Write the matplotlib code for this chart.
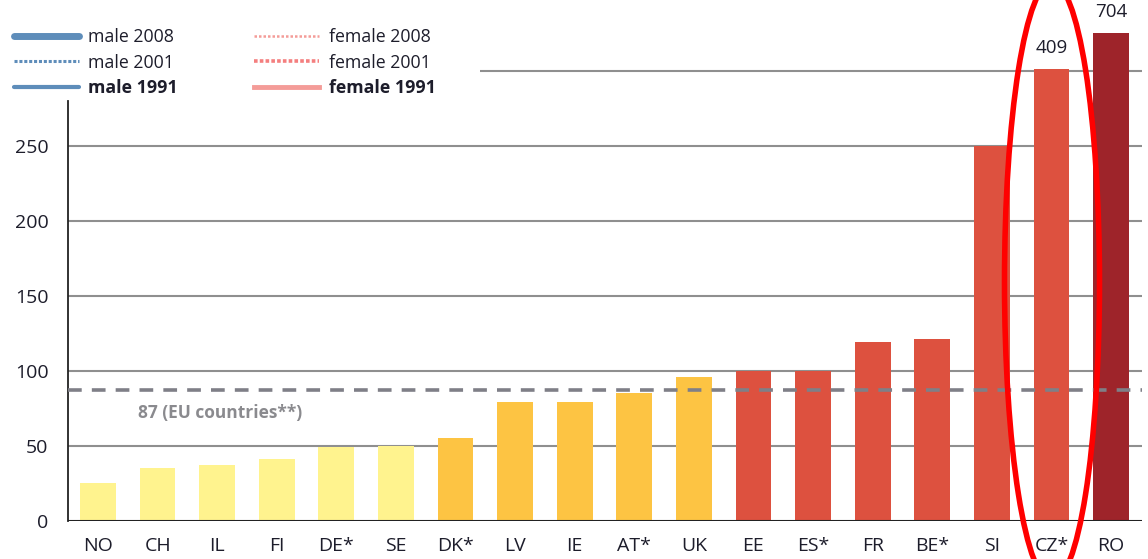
import matplotlib
matplotlib.use("Agg")
import matplotlib.pyplot as plt
from matplotlib.lines import Line2D
from matplotlib.patches import Ellipse
import numpy as np

plt.rcParams['font.family'] = ['Open Sans', 'DejaVu Sans']

countries = ["NO", "CH", "IL", "FI", "DE*", "SE", "DK*", "LV", "IE", "AT*", "UK",
             "EE", "ES*", "FR", "BE*", "SI", "CZ*", "RO"]
values = [25, 35, 37, 41, 49, 50, 55, 79, 79, 85, 96,
          100, 100, 119, 121, 250, 409, 704]
# broken-axis display heights for the two off-scale bars
shown = [25, 35, 37, 41, 49, 50, 55, 79, 79, 85, 96,
         100, 100, 119, 121, 250, 301, 325]
groups = ["low"] * 6 + ["mid"] * 5 + ["high"] * 6 + ["top"]
labelled = {"CZ*": 409, "RO": 704}
eu_avg = 87
yticks = [0, 50, 100, 150, 200, 250]

palette = {"low": "#FFF38E", "mid": "#FDC443", "high": "#DD513F", "top": "#9E242A"}

fig = plt.figure(figsize=(11.48, 5.59), dpi=100)
ax = fig.add_axes([68 / 1148, 1 - 520.7 / 559, (1142 - 68) / 1148, 520.7 / 559])
ax.set_xlim(-0.503, 17.52)
ax.set_ylim(0, 347)

x = np.arange(len(countries))
grid_c = "#8f8f8f"
for t in yticks[1:]:
    ax.axhline(t, color=grid_c, lw=1.5, zorder=1)
ax.hlines(300, 6.41, 17.52, color=grid_c, lw=1.5, zorder=1)

ax.bar(x, shown, width=0.6, color=[palette[g] for g in groups], zorder=2)

ax.axhline(eu_avg, color="#7f7f87", lw=2.6, ls=(0, (3.8, 2.8)), zorder=3)
ax.text(0.67, eu_avg - 15, f"{eu_avg} (EU countries**)", color="#8a8a8e",
        fontsize=12.5, fontweight="bold", va="center", ha="left", zorder=4)

ax.axhline(0, color="#222222", lw=1.5, zorder=3)

for i, c in enumerate(countries):
    if c in labelled:
        ax.text(i, shown[i] + 8, str(labelled[c]), ha="center", va="bottom",
                fontsize=13.5, color="#1d1d2b")

for s in ["top", "right", "bottom"]:
    ax.spines[s].set_visible(False)
ax.spines["left"].set_bounds(0, 280)
ax.spines["left"].set_color("#222222")
ax.spines["left"].set_linewidth(1.3)

ax.set_yticks(yticks)
ax.set_yticklabels([str(t) for t in yticks], fontsize=14, color="#1d1d2b")
ax.tick_params(axis="y", length=0, pad=14)
ax.set_xticks(x)
ax.set_xticklabels(countries, fontsize=14, color="#1d1d2b")
ax.tick_params(axis="x", length=0, pad=12)

# legend
male_c = "#5E8DBA"
fem_c1 = "#F49C98"
fem_c2 = "#F47F7F"
handles = [
    Line2D([], [], color=male_c, lw=5, solid_capstyle="round"),
    Line2D([], [], color=male_c, lw=2.2, ls=(0, (1, 0.6))),
    Line2D([], [], color=male_c, lw=3, solid_capstyle="round"),
    Line2D([], [], color=fem_c1, lw=1.8, ls=(0, (1, 0.8))),
    Line2D([], [], color=fem_c2, lw=2.6, ls=(0, (1, 0.6))),
    Line2D([], [], color=fem_c1, lw=3.5),
]
labels = ["male 2008", "male 2001", "male 1991", "female 2008", "female 2001", "female 1991"]
leg = fig.legend(handles, labels, loc="upper left", bbox_to_anchor=(-0.002, 0.979),
                 ncol=2, frameon=False, fontsize=12.8, handlelength=3.65,
                 handletextpad=0.55, columnspacing=4.3, labelspacing=0.44)
for t in leg.get_texts():
    t.set_color("#1d1d2b")
    if "1991" in t.get_text():
        t.set_fontweight("bold")

# highlight ellipse
fig.add_artist(Ellipse((1052 / 1148, 1 - 282 / 559), 95 / 1148, 600 / 559,
                       transform=fig.transFigure, fill=False, edgecolor="#FF0000",
                       lw=4, clip_on=False, zorder=10))

fig.savefig("out.png", dpi=100)
